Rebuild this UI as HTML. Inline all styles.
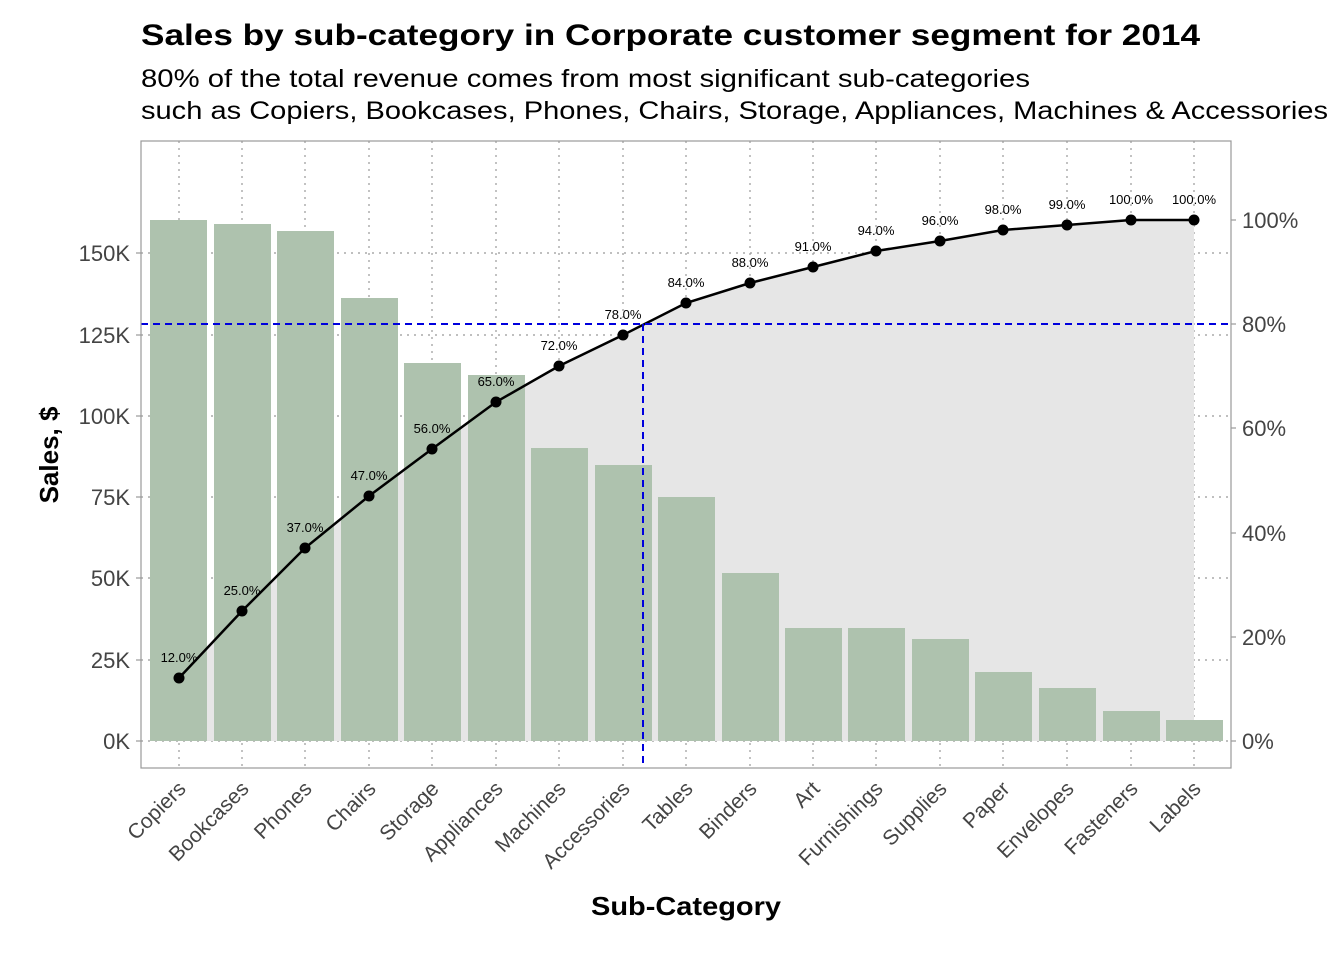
<!DOCTYPE html>
<html><head><meta charset="utf-8"><style>body{margin:0;background:#fff}svg{display:block}text{font-family:"Liberation Sans",Arial,sans-serif}</style></head><body>
<svg width="1344" height="960" xmlns="http://www.w3.org/2000/svg">
<text x="141" y="45" font-size="30" font-weight="bold" textLength="1059" lengthAdjust="spacingAndGlyphs">Sales by sub-category in Corporate customer segment for 2014</text>
<text x="141" y="87" font-size="25" textLength="889" lengthAdjust="spacingAndGlyphs">80% of the total revenue comes from most significant sub-categories</text>
<text x="141" y="119" font-size="25" textLength="1187" lengthAdjust="spacingAndGlyphs">such as Copiers, Bookcases, Phones, Chairs, Storage, Appliances, Machines &amp; Accessories</text>
<g stroke="#999" stroke-width="1.2" stroke-dasharray="2,5">
<line x1="141" x2="1231" y1="253" y2="253"/><line x1="141" x2="1231" y1="335" y2="335"/><line x1="141" x2="1231" y1="416" y2="416"/><line x1="141" x2="1231" y1="497" y2="497"/><line x1="141" x2="1231" y1="578" y2="578"/><line x1="141" x2="1231" y1="660" y2="660"/><line x1="141" x2="1231" y1="741" y2="741"/>
<line x1="179" x2="179" y1="141" y2="768"/><line x1="242" x2="242" y1="141" y2="768"/><line x1="305" x2="305" y1="141" y2="768"/><line x1="369" x2="369" y1="141" y2="768"/><line x1="432" x2="432" y1="141" y2="768"/><line x1="496" x2="496" y1="141" y2="768"/><line x1="559" x2="559" y1="141" y2="768"/><line x1="623" x2="623" y1="141" y2="768"/><line x1="686" x2="686" y1="141" y2="768"/><line x1="750" x2="750" y1="141" y2="768"/><line x1="813" x2="813" y1="141" y2="768"/><line x1="876" x2="876" y1="141" y2="768"/><line x1="940" x2="940" y1="141" y2="768"/><line x1="1003" x2="1003" y1="141" y2="768"/><line x1="1067" x2="1067" y1="141" y2="768"/><line x1="1131" x2="1131" y1="141" y2="768"/><line x1="1194" x2="1194" y1="141" y2="768"/>
</g>
<polygon fill="#e6e6e6" points="179,741 179,678 242,611 305,548 369,496 432,449 496,402 559,366 623,335 686,303 750,283 813,267 876,251 940,241 1003,230 1067,225 1131,220 1194,220 1194,741"/>
<g fill="#aec2ae">
<rect x="150" y="220" width="57" height="521"/><rect x="214" y="224" width="57" height="517"/><rect x="277" y="231" width="57" height="510"/><rect x="341" y="298" width="57" height="443"/><rect x="404" y="363" width="57" height="378"/><rect x="468" y="375" width="57" height="366"/><rect x="531" y="448" width="57" height="293"/><rect x="595" y="465" width="57" height="276"/><rect x="658" y="497" width="57" height="244"/><rect x="722" y="573" width="57" height="168"/><rect x="785" y="628" width="57" height="113"/><rect x="848" y="628" width="57" height="113"/><rect x="912" y="639" width="57" height="102"/><rect x="975" y="672" width="57" height="69"/><rect x="1039" y="688" width="57" height="53"/><rect x="1103" y="711" width="57" height="30"/><rect x="1166" y="720" width="57" height="21"/>
</g>
<polyline fill="none" stroke="#000" stroke-width="2.5" points="179,678 242,611 305,548 369,496 432,449 496,402 559,366 623,335 686,303 750,283 813,267 876,251 940,241 1003,230 1067,225 1131,220 1194,220"/>
<g fill="#000">
<circle cx="179" cy="678" r="5.5"/><circle cx="242" cy="611" r="5.5"/><circle cx="305" cy="548" r="5.5"/><circle cx="369" cy="496" r="5.5"/><circle cx="432" cy="449" r="5.5"/><circle cx="496" cy="402" r="5.5"/><circle cx="559" cy="366" r="5.5"/><circle cx="623" cy="335" r="5.5"/><circle cx="686" cy="303" r="5.5"/><circle cx="750" cy="283" r="5.5"/><circle cx="813" cy="267" r="5.5"/><circle cx="876" cy="251" r="5.5"/><circle cx="940" cy="241" r="5.5"/><circle cx="1003" cy="230" r="5.5"/><circle cx="1067" cy="225" r="5.5"/><circle cx="1131" cy="220" r="5.5"/><circle cx="1194" cy="220" r="5.5"/>
</g>
<g font-size="13" text-anchor="middle">
<text x="179" y="662">12.0%</text><text x="242" y="595">25.0%</text><text x="305" y="532">37.0%</text><text x="369" y="480">47.0%</text><text x="432" y="433">56.0%</text><text x="496" y="386">65.0%</text><text x="559" y="350">72.0%</text><text x="623" y="319">78.0%</text><text x="686" y="287">84.0%</text><text x="750" y="267">88.0%</text><text x="813" y="251">91.0%</text><text x="876" y="235">94.0%</text><text x="940" y="225">96.0%</text><text x="1003" y="214">98.0%</text><text x="1067" y="209">99.0%</text><text x="1131" y="204">100.0%</text><text x="1194" y="204">100.0%</text>
</g>
<g stroke="#0000dd" stroke-width="2" stroke-dasharray="7,5">
<line x1="141" x2="1231" y1="324" y2="324"/><line x1="643" x2="643" y1="324" y2="768"/>
</g>
<rect x="141" y="141" width="1090" height="627" fill="none" stroke="#999" stroke-width="1.2"/>
<g stroke="#999" stroke-width="1.2">
<line x1="136" x2="141" y1="253" y2="253"/><line x1="136" x2="141" y1="335" y2="335"/><line x1="136" x2="141" y1="416" y2="416"/><line x1="136" x2="141" y1="497" y2="497"/><line x1="136" x2="141" y1="578" y2="578"/><line x1="136" x2="141" y1="660" y2="660"/><line x1="136" x2="141" y1="741" y2="741"/>
<line x1="1231" x2="1236" y1="220" y2="220"/><line x1="1231" x2="1236" y1="324" y2="324"/><line x1="1231" x2="1236" y1="428" y2="428"/><line x1="1231" x2="1236" y1="533" y2="533"/><line x1="1231" x2="1236" y1="637" y2="637"/><line x1="1231" x2="1236" y1="741" y2="741"/>
</g>
<g font-size="22" fill="#444" text-anchor="end">
<text x="130" y="261">150K</text><text x="130" y="343">125K</text><text x="130" y="424">100K</text><text x="130" y="505">75K</text><text x="130" y="586">50K</text><text x="130" y="668">25K</text><text x="130" y="749">0K</text>
</g>
<g font-size="22" fill="#444">
<text x="1242" y="228">100%</text><text x="1242" y="332">80%</text><text x="1242" y="436">60%</text><text x="1242" y="541">40%</text><text x="1242" y="645">20%</text><text x="1242" y="749">0%</text>
</g>
<g font-size="21" fill="#444" text-anchor="end">
<text transform="translate(187,790) rotate(-45)">Copiers</text><text transform="translate(250,790) rotate(-45)">Bookcases</text><text transform="translate(313,790) rotate(-45)">Phones</text><text transform="translate(377,790) rotate(-45)">Chairs</text><text transform="translate(440,790) rotate(-45)">Storage</text><text transform="translate(504,790) rotate(-45)">Appliances</text><text transform="translate(567,790) rotate(-45)">Machines</text><text transform="translate(631,790) rotate(-45)">Accessories</text><text transform="translate(694,790) rotate(-45)">Tables</text><text transform="translate(758,790) rotate(-45)">Binders</text><text transform="translate(821,790) rotate(-45)">Art</text><text transform="translate(884,790) rotate(-45)">Furnishings</text><text transform="translate(948,790) rotate(-45)">Supplies</text><text transform="translate(1011,790) rotate(-45)">Paper</text><text transform="translate(1075,790) rotate(-45)">Envelopes</text><text transform="translate(1139,790) rotate(-45)">Fasteners</text><text transform="translate(1202,790) rotate(-45)">Labels</text>
</g>
<text x="591" y="915" font-size="26" font-weight="bold" textLength="190" lengthAdjust="spacingAndGlyphs">Sub-Category</text>
<text transform="translate(58,455) rotate(-90)" font-size="26" font-weight="bold" text-anchor="middle">Sales, $</text>
</svg>
</body></html>
